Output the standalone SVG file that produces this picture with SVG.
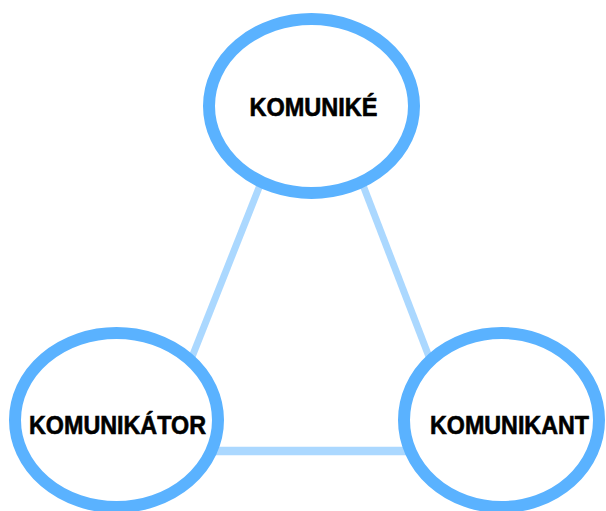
<svg xmlns="http://www.w3.org/2000/svg" width="606" height="511" viewBox="0 0 606 511">
<style>
.link{stroke:#abd8ff;stroke-width:7;fill:none}
.ring{fill:#fff;stroke:#5ab2ff;stroke-width:12}
.lbl{font-family:"Liberation Sans",Arial,sans-serif;font-weight:bold;font-size:25px;fill:#000;stroke:#000;stroke-width:0.6;text-anchor:middle}
</style>
<rect width="606" height="511" fill="#fff"/>
<g id="connectors">
<line class="link" x1="262" y1="180" x2="190" y2="362"/>
<line class="link" x1="361" y1="180" x2="431" y2="362"/>
<line class="link" x1="215" y1="451" x2="410" y2="451" style="stroke-width:8.5"/>
</g>
<g id="komunike">
<ellipse class="ring" cx="311.5" cy="106" rx="102.5" ry="87"/>
<text class="lbl" x="313.5" y="115.5" textLength="128" lengthAdjust="spacingAndGlyphs">KOMUNIKÉ</text>
</g>
<g id="komunikator">
<ellipse class="ring" cx="116.5" cy="420" rx="101.5" ry="87"/>
<text class="lbl" x="117.5" y="433.5" textLength="177" lengthAdjust="spacingAndGlyphs">KOMUNIKÁTOR</text>
</g>
<g id="komunikant">
<ellipse class="ring" cx="501.5" cy="420" rx="97.5" ry="87"/>
<text class="lbl" x="509.5" y="433.5" textLength="159" lengthAdjust="spacingAndGlyphs">KOMUNIKANT</text>
</g>
</svg>
